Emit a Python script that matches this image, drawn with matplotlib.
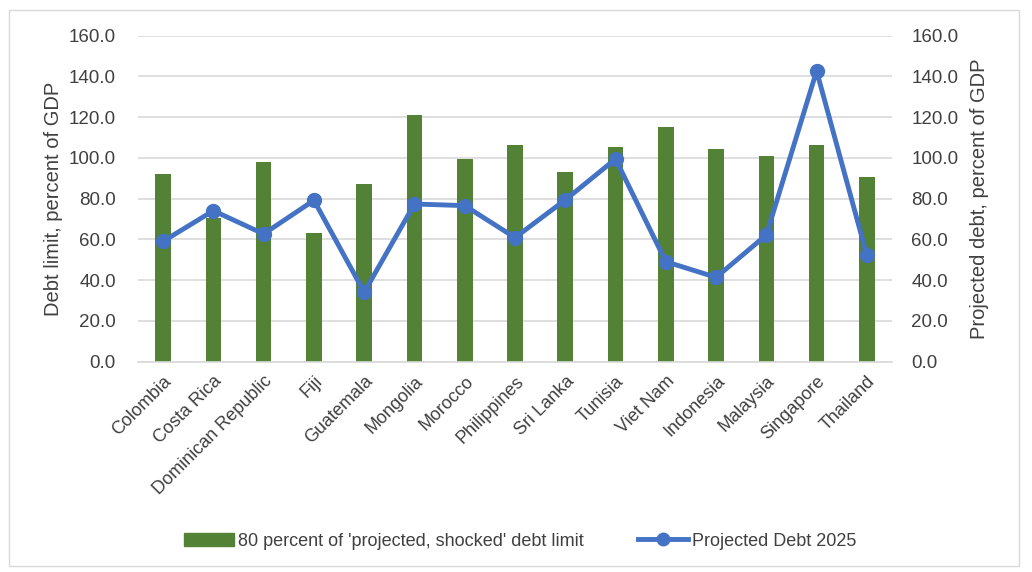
import matplotlib.pyplot as plt
import numpy as np
from matplotlib.patches import Rectangle
from matplotlib.lines import Line2D

plt.rcParams['font.family'] = ['Liberation Sans', 'DejaVu Sans']

countries = ["Colombia", "Costa Rica", "Dominican Republic", "Fiji", "Guatemala",
             "Mongolia", "Morocco", "Philippines", "Sri Lanka", "Tunisia",
             "Viet Nam", "Indonesia", "Malaysia", "Singapore", "Thailand"]
debt_limit = [92.1, 70.5, 98.0, 63.2, 87.2, 121.2, 99.3, 106.2, 93.3, 105.5,
              115.0, 104.2, 101.0, 106.5, 90.8]
debt_2025 = [59.1, 74.1, 62.7, 79.2, 34.1, 77.4, 76.6, 60.9, 79.4, 99.5,
             49.1, 41.4, 62.2, 142.7, 52.2]
yticks = [0, 20, 40, 60, 80, 100, 120, 140, 160]

green = "#538135"
blue = "#4472C4"
txt = "#404040"

fig = plt.figure(figsize=(10.32, 5.72), dpi=100)
fig.patches.append(Rectangle((9/1032, 1 - 566/572), 1010/1032, 556/572,
                             transform=fig.transFigure, fill=False,
                             edgecolor="#D9D9D9", linewidth=1))
ax = fig.add_axes([138/1032, 1 - 361.7/572, 754/1032, 326/572])
ax2 = ax.twinx()

x = np.arange(len(countries))
ax.bar(x, debt_limit, width=0.31, color=green, zorder=2)
ax2.plot(x, debt_2025, color=blue, linewidth=3.5, marker="o", markersize=10, zorder=3)

for a, p in ((ax, 16), (ax2, 14)):
    a.set_ylim(0, 160)
    a.set_yticks(yticks)
    a.set_yticklabels([f"{v:.1f}" for v in yticks], fontsize=13.5, color=txt)
    a.tick_params(axis="y", length=0, pad=p)
    for s in a.spines.values():
        s.set_visible(False)
ax.spines["bottom"].set_visible(True)
ax.spines["bottom"].set_color("#D9D9D9")
ax.spines["bottom"].set_linewidth(1.2)
ax.set_xlim(-0.5, len(countries) - 0.5)
ax.yaxis.grid(True, color="#D9D9D9", linewidth=1.2, zorder=0)
ax.set_axisbelow(True)
ax.set_xticks(x)
ax.set_xticklabels(countries, rotation=45, ha="right", rotation_mode="anchor",
                   fontsize=13, color=txt)
ax.tick_params(axis="x", length=0, pad=8)

ax.set_ylabel("Debt limit, percent of GDP", fontsize=14.5, color=txt, labelpad=4)
ax2.set_ylabel("Projected debt, percent of GDP", fontsize=14.5, color=txt, labelpad=8)

handles = [Rectangle((0, 0), 1, 1, color=green),
           Line2D([0], [0], color=blue, linewidth=3.5, marker="o", markersize=9)]
fig.legend(handles, ["80 percent of 'projected, shocked' debt limit", "Projected Debt 2025"],
           loc="center", bbox_to_anchor=(520/1032, 1 - 541/572), ncol=2, frameon=False,
           fontsize=13, labelcolor=txt, handlelength=2.8, handletextpad=0.2,
           columnspacing=3)

fig.savefig("out.png", dpi=100)
